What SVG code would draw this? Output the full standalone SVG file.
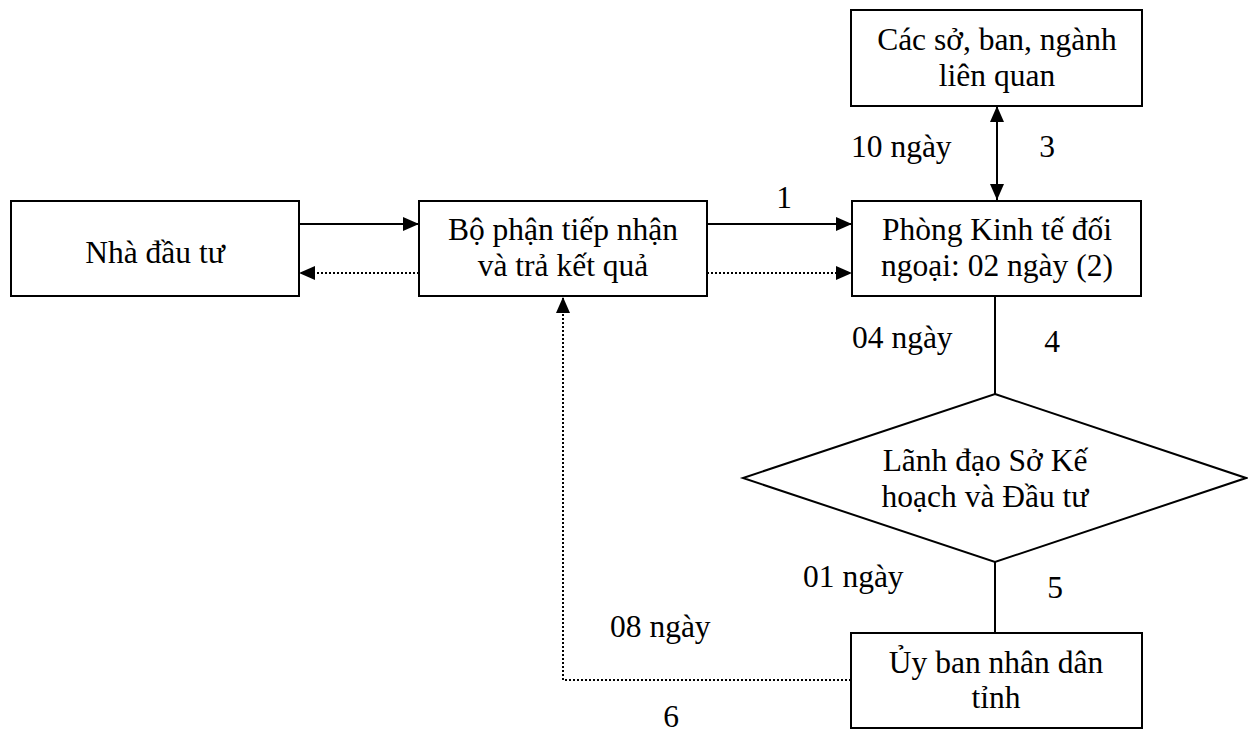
<svg xmlns="http://www.w3.org/2000/svg" width="1248" height="731" viewBox="0 0 1248 731">
<style>
.box{fill:#fff;stroke:#000;stroke-width:2}
.t{font-family:"Liberation Serif","Times New Roman",serif;font-size:31.5px;fill:#000;text-anchor:middle}
.l{font-family:"Liberation Serif","Times New Roman",serif;font-size:31.5px;fill:#000}
.ln{fill:none;stroke:#000;stroke-width:2}
.dot{fill:none;stroke:#000;stroke-width:2;stroke-dasharray:2 2}
</style>
<defs>
<marker id="ah" markerUnits="userSpaceOnUse" markerWidth="16" markerHeight="14" refX="16" refY="7" orient="auto">
<path d="M0,0 L16,7 L0,14 z" fill="#000"/>
</marker>
<marker id="ahs" markerUnits="userSpaceOnUse" markerWidth="16" markerHeight="14" refX="16" refY="7" orient="auto-start-reverse">
<path d="M0,0 L16,7 L0,14 z" fill="#000"/>
</marker>
</defs>
<rect width="1248" height="731" fill="#fff"/>
<g id="connectors">
<line class="ln" x1="299" y1="224" x2="419" y2="224" marker-end="url(#ah)"/>
<line class="dot" x1="419" y1="273" x2="299" y2="273" marker-end="url(#ah)"/>
<line class="ln" x1="707" y1="224" x2="852" y2="224" marker-end="url(#ah)"/>
<line class="dot" x1="707" y1="273" x2="852" y2="273" marker-end="url(#ah)"/>
<line class="ln" x1="997" y1="106" x2="997" y2="200" marker-start="url(#ahs)" marker-end="url(#ahs)"/>
<line class="ln" x1="995" y1="296" x2="995" y2="394"/>
<line class="ln" x1="995" y1="562" x2="995" y2="633"/>
<polyline class="dot" points="851,680 563,680 563,297" marker-end="url(#ah)"/>
<text class="l" x="784" y="208" text-anchor="middle">1</text>
<text class="l" x="851" y="157">10 ngày</text>
<text class="l" x="1047" y="157" text-anchor="middle">3</text>
<text class="l" x="852" y="348">04 ngày</text>
<text class="l" x="1052" y="352" text-anchor="middle">4</text>
<text class="l" x="803" y="587">01 ngày</text>
<text class="l" x="1055" y="598" text-anchor="middle">5</text>
<text class="l" x="610" y="637">08 ngày</text>
<text class="l" x="671" y="727" text-anchor="middle">6</text>
</g>
<g id="nha-dau-tu">
<rect class="box" x="11" y="201" width="288" height="95"/>
<text class="t" x="155" y="263">Nhà đầu tư</text>
</g>
<g id="bo-phan">
<rect class="box" x="419" y="201" width="288" height="95"/>
<text class="t" x="563" y="240">Bộ phận tiếp nhận</text>
<text class="t" x="563" y="276">và trả kết quả</text>
</g>
<g id="cac-so">
<rect class="box" x="851" y="10" width="291" height="96"/>
<text class="t" x="997" y="50">Các sở, ban, ngành</text>
<text class="t" x="997" y="86">liên quan</text>
</g>
<g id="phong-ktdn">
<rect class="box" x="852" y="201" width="289" height="95"/>
<text class="t" x="997" y="240">Phòng Kinh tế đối</text>
<text class="t" x="997" y="276">ngoại: 02 ngày (2)</text>
</g>
<g id="lanh-dao">
<polygon class="box" points="995,394 1246,478 995,562 743,478"/>
<text class="t" x="985" y="471">Lãnh đạo Sở Kế</text>
<text class="t" x="985" y="507">hoạch và Đầu tư</text>
</g>
<g id="ubnd">
<rect class="box" x="851" y="633" width="291" height="95"/>
<text class="t" x="996" y="673">Ủy ban nhân dân</text>
<text class="t" x="996" y="708">tỉnh</text>
</g>
</svg>
